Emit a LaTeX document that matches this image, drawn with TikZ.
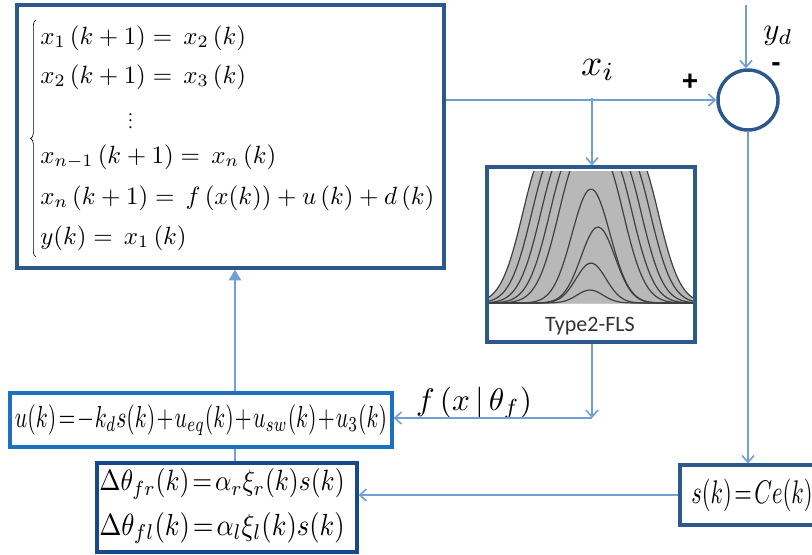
\documentclass[tikz,border=0pt]{standalone}
\usepackage[no-math]{fontspec}
\setmainfont{Liberation Serif}
\newfontfamily\calib{Carlito}
\newfontfamily\lsans{Liberation Sans}
\usepackage{graphicx}
\usetikzlibrary{arrows.meta,decorations.pathreplacing}
\definecolor{boxdark}{RGB}{44,88,140}
\definecolor{linec}{RGB}{112,158,214}
\definecolor{ublue}{RGB}{30,112,192}
\definecolor{navy}{RGB}{24,72,140}
\definecolor{curvegray}{RGB}{184,184,184}
\newcommand{\eqs}[1]{\scalebox{1.87}{$#1$}}
\tikzset{
  blk/.style={draw=#1,line width=2.4pt,fill=white,inner sep=0pt,rectangle},
  conn/.style={draw=linec,line width=1.4pt},
  openarr/.style={-{Straight Barb[length=5pt,width=9pt,line width=1.2pt]}},
  fillarr/.style={-{Triangle[length=8pt,width=9pt]}},
  eqn/.style={inner sep=0pt,anchor=west},
  upper/.style={black!75,line width=0.9pt},
}
\begin{document}
\begin{tikzpicture}[x=0.75pt,y=-0.75pt]
\useasboundingbox (0,0) rectangle (812,554);
% ---- system box
\node[blk=boxdark,minimum width=320.25pt,minimum height=197.25pt] (sys) at (230.5,136.5) {};
\node[eqn] (e1) at (40,38) {\eqs{x_{1}\,(k+1)=\,x_{2}\,(k)}};
\node[eqn] (e2) at (40,77) {\eqs{x_{2}\,(k+1)=\,x_{3}\,(k)}};
\node[eqn] (e3) at (128,116) {\scalebox{1.3}{$\vdots$}};
\node[eqn] (e4) at (40,157) {\eqs{x_{n-1}\,(k+1)=\,x_{n}\,(k)}};
\node[eqn] (e5) at (40,198) {\eqs{x_{n}\,(k+1)=\,f\,(x(k))+u\,(k)+d\,(k)}};
\node[eqn] (e6) at (40,238) {\eqs{y(k)=\,x_{1}\,(k)}};
\draw[line width=0.5pt,decoration={brace,mirror,amplitude=4pt},decorate] (36,20) -- (36,257);
% ---- summing junction
\node[circle,draw=boxdark,line width=2.6pt,minimum size=45pt,inner sep=0pt] (sum) at (748,100) {};
\coordinate (ydtop) at (746,5);
\node (yd) at (778,36) {\scalebox{2.3}{$y_{d}$}};
\node (xi) at (598,70) {\scalebox{2.8}{$x_{i}$}};
\node (plus) at (690,82) {\lsans\fontsize{21}{22}\selectfont\bfseries +};
\node (minus) at (776,67) {\lsans\fontsize{21}{22}\selectfont\bfseries -};
% ---- FLS box
\node[blk=boxdark,minimum width=156pt,minimum height=131.25pt] (fls) at (591,254.5) {};
\begin{scope}
\clip (489,171) rectangle (693,303);
\foreach \c in {545,554,563,572,581,601,610,619,628,636}{
  \fill[curvegray] plot[domain=470:712,samples=80,smooth] (\x,{303-150*exp(-((\x-\c)/22)^2/2)}) -- (712,303) -- (470,303) -- cycle;
}
\foreach \c in {545,554,563,572,581}{
  \draw[upper] plot[domain=470:\c,samples=50,smooth] (\x,{303-150*exp(-((\x-\c)/22)^2/2)});
}
\foreach \c in {601,610,619,628,636}{
  \draw[upper] plot[domain=\c:712,samples=50,smooth] (\x,{303-150*exp(-((\x-\c)/22)^2/2)});
}
\foreach \a/\c/\s in {114/591/19,76/598/17,40/591/15,13/590/13}{
  \draw[upper] plot[domain=470:712,samples=80,smooth] (\x,{303-\a*exp(-((\x-\c)/\s)^2/2)});
}
\end{scope}
\node[inner sep=0pt] (flstxt) at (590,326) {\calib\fontsize{16.5}{18}\selectfont\color{black!80}Type2-FLS};
% ---- control law box
\node[blk=ublue,minimum width=286.5pt,minimum height=40.5pt] (ubox) at (201,420) {};
\node[inner sep=0pt] (utxt) at (201,420) {\scalebox{1}[1.4]{\resizebox{279pt}{!}{$u(k)\!=\!-k_{d}s(k)\!+\!u_{eq}(k)\!+\!u_{sw}(k)\!+\!u_{3}(k)$}}};
% ---- adaptation box
\node[blk=navy,minimum width=195pt,minimum height=66.75pt] (dbox) at (227,507.5) {};
\node[inner sep=0pt] (d1) at (222,484) {\scalebox{1}[1.15]{\resizebox{184pt}{!}{$\Delta\theta_{fr}(k)\!=\!\alpha_{r}\xi_{r}(k)s(k)$}}};
\node[inner sep=0pt] (d2) at (222,528) {\scalebox{1}[1.15]{\resizebox{184pt}{!}{$\Delta\theta_{fl}(k)\!=\!\alpha_{l}\xi_{l}(k)s(k)$}}};
% ---- sliding surface box
\node[blk=boxdark,minimum width=112.5pt,minimum height=45pt] (sbox) at (755,495) {};
\node[inner sep=0pt,anchor=west] (stxt) at (691,495) {\scalebox{1}[1.45]{\resizebox{91pt}{!}{$s(k)\!=\!Ce(k)$}}};
% ---- f label
\node[inner sep=0pt] (flab) at (474,403) {\resizebox{87pt}{!}{$f\left(x\,\middle|\,\theta_{f}\right)$}};
% ---- connectors
\coordinate (vx) at (235,0);
\coordinate (br) at (592,98);
\coordinate (fc) at (592,418);
\draw[conn,openarr] (sum.west -| sys.east) -- (sum.west);
\draw[conn,openarr] (br) -- (br |- fls.north);
\draw[conn,openarr] (ydtop) -- (ydtop |- sum.north);
\draw[conn,openarr] (sum.south) -- (sum.south |- sbox.north);
\draw[conn,openarr] (sbox.west) -- (sbox.west -| dbox.east);
\draw[conn,openarr] (br |- fls.south) -- (fc);
\draw[conn,openarr] (fc) -- (fc -| ubox.east);
\draw[conn,fillarr] (vx |- ubox.north) -- (vx |- sys.south);
\draw[conn] (vx |- ubox.south) -- (vx |- dbox.north);
\end{tikzpicture}
\end{document}
